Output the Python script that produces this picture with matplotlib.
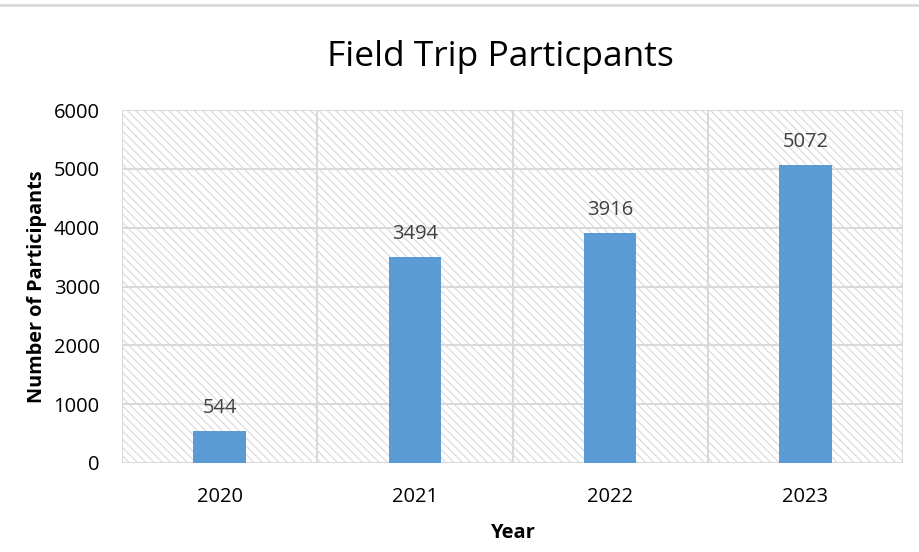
import matplotlib
matplotlib.use("Agg")
import matplotlib.pyplot as plt
from matplotlib.patches import Rectangle
from matplotlib.lines import Line2D

years = ["2020", "2021", "2022", "2023"]
participants = [544, 3494, 3916, 5072]
yticks = [0, 1000, 2000, 3000, 4000, 5000, 6000]

plt.rcParams['font.family'] = ['Open Sans', 'DejaVu Sans']
plt.rcParams['hatch.color'] = '#d9d9d9'
plt.rcParams['hatch.linewidth'] = 0.8

fig = plt.figure(figsize=(9.19, 5.52), dpi=100)
fig.add_artist(Line2D([0, 1], [1 - 5/552, 1 - 5/552], color='#d9d9d9', lw=2, transform=fig.transFigure))

L, R, T, B = 122/919, 903/919, 1 - 110/552, 1 - 463/552
ax = fig.add_axes([L, B, R - L, T - B])
ax.set_xlim(-0.5, len(years) - 0.5)
ax.set_ylim(0, 6000)

# hatched background
bg = Rectangle((0, 0), 1, 1, transform=ax.transAxes, facecolor='white',
               edgecolor='#d9d9d9', hatch='\\\\\\\\', lw=0, zorder=0)
ax.add_patch(bg)

for y in yticks:
    ax.axhline(y, color='#d9d9d9', lw=1.5, zorder=1)
for i in range(len(years) + 1):
    ax.axvline(i - 0.5, color='#d9d9d9', lw=1.5, zorder=1)

x = range(len(years))
bars = ax.bar(x, participants, width=0.27, color='#5b9bd5', zorder=3)
for xi, v in zip(x, participants):
    ax.text(xi, v + 220, str(v), ha='center', va='bottom', fontsize=14.5, color='#404040')

ax.set_xticks(list(x))
ax.set_xticklabels(years, fontsize=14.5)
ax.set_yticks(yticks)
ax.set_yticklabels([str(t) for t in yticks], fontsize=14.5)
ax.tick_params(length=0)
ax.tick_params(axis='y', pad=16)
ax.tick_params(axis='x', pad=17)
for s in ax.spines.values():
    s.set_visible(False)

ax.set_xlabel("Year", fontsize=14.5, fontweight='bold', labelpad=12)
ax.set_ylabel("Number of Participants", fontsize=14.3, fontweight='bold', labelpad=5)
fig.text((L + R) / 2 - 12/919, 1 - 57/552, "Field Trip Particpants", ha='center', va='center', fontsize=25.5)

fig.savefig("out.png", dpi=100)
